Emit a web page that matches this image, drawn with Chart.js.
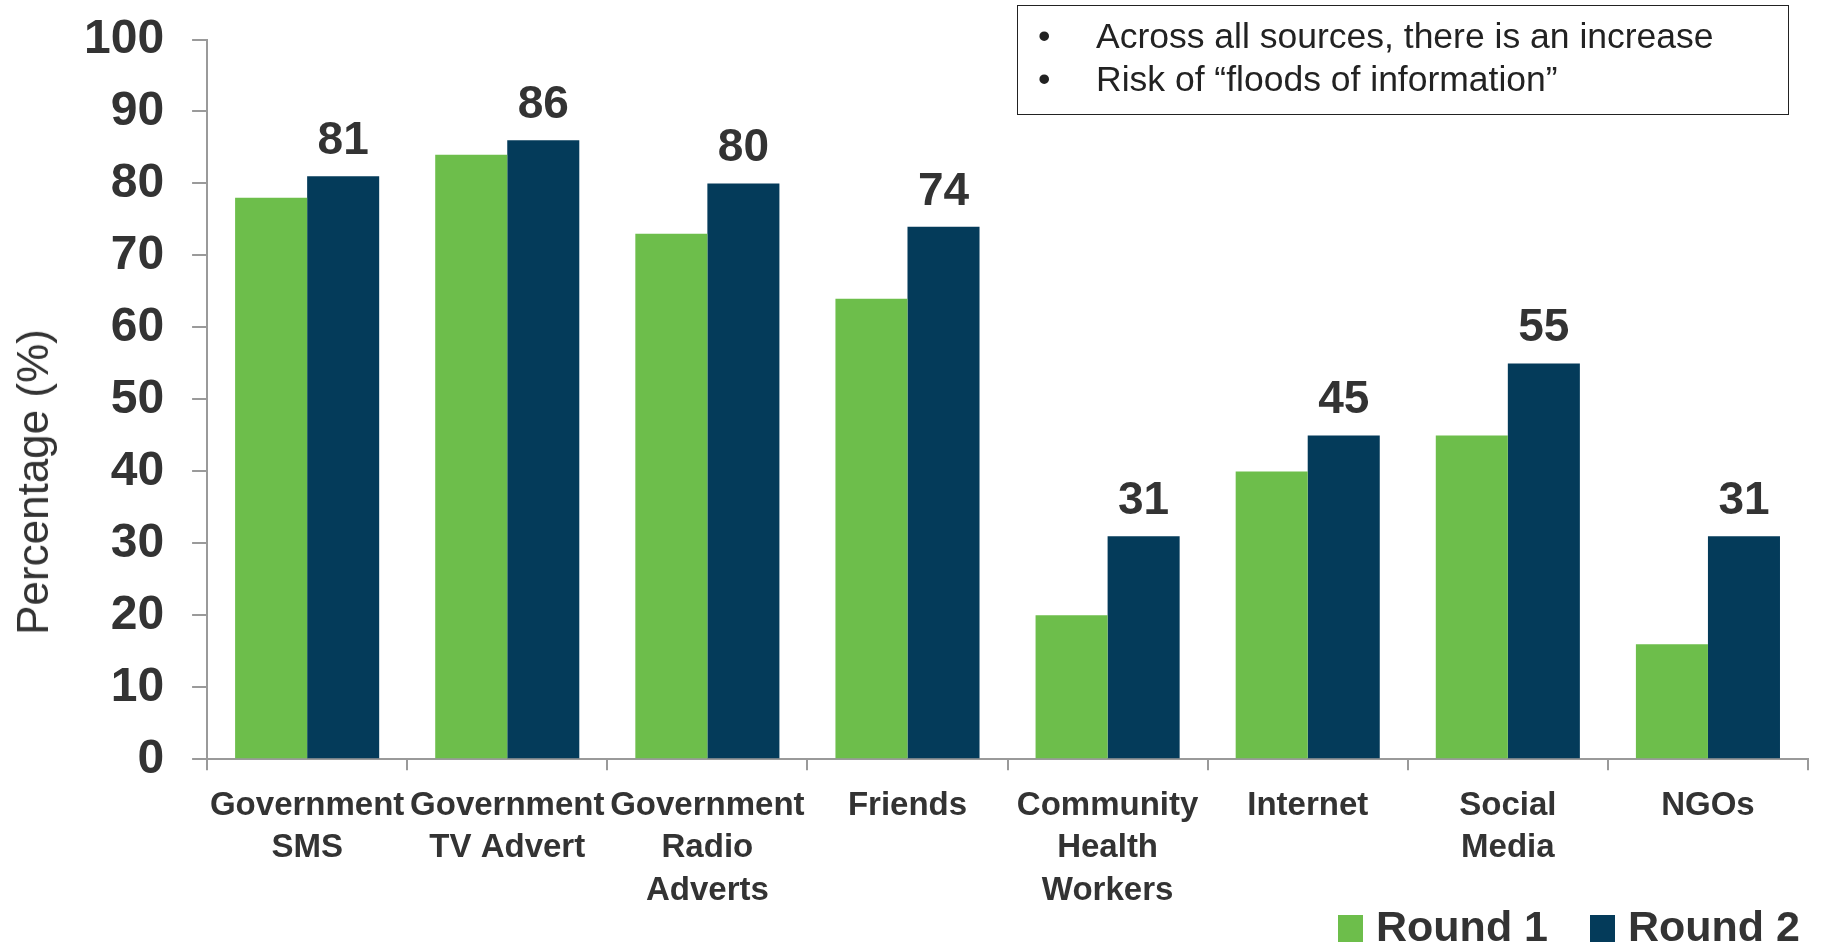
<!DOCTYPE html>
<html lang="en">
<head>
    <meta charset="UTF-8">
    <title>Sources of information</title>
    <script src="https://cdn.jsdelivr.net/npm/chart.js"></script>
    <style>
        body { margin: 0; background: #fff; }
        .wrap { position: relative; width: 1822px; height: 945px; }
        .ytitle {
            position: absolute; left: 33px; top: 482px;
            transform: translate(-50%, -50%) rotate(-90deg);
            font: 44px "Liberation Sans", Arial, sans-serif; color: #333;
            white-space: nowrap;
        }
        .note {
            position: absolute; left: 1017px; top: 5px; width: 772px; height: 110px;
            border: 1.5px solid #222; box-sizing: border-box;
            font: 35.5px "Liberation Sans", Arial, sans-serif; color: #222;
            padding: 9px 0 0 0;
        }
        .note div { position: relative; padding-left: 78px; line-height: 43px; }
        .note div::before { content: "\2022"; position: absolute; left: 20px; }
        #legend {
            position: absolute; right: 22px; top: 904px; height: 44px;
            display: flex; align-items: center;
            font: bold 43px "Liberation Sans", Arial, sans-serif; color: #333;
        }
        #legend .item { display: flex; align-items: center; margin-left: 42px; line-height: 44px; }
        #legend .box { width: 25px; height: 27px; margin: 4px 13px 0 0; }
    </style>
</head>
<body>
    <div class="wrap">
        <canvas id="sourcesChart" width="1822" height="945"></canvas>
        <div class="ytitle">Percentage (%)</div>
        <div class="note">
            <div>Across all sources, there is an increase</div>
            <div>Risk of “floods of information”</div>
        </div>
        <div id="legend"></div>
    </div>
    <script>
        const categories = [
            ['Government', 'SMS'],
            ['Government', 'TV Advert'],
            ['Government', 'Radio', 'Adverts'],
            ['Friends'],
            ['Community', 'Health', 'Workers'],
            ['Internet'],
            ['Social', 'Media'],
            ['NGOs']
        ];
        const round1 = [78, 84, 73, 64, 20, 40, 45, 16];
        const round2 = [81, 86, 80, 74, 31, 45, 55, 31];
        const yTicks = [0, 10, 20, 30, 40, 50, 60, 70, 80, 90, 100];

        const textColor = '#333333';
        const axisColor = '#9a9a9a';

        // value labels over the Round 2 bars
        const valueLabels = {
            id: 'valueLabels',
            afterDatasetsDraw(chart) {
                const ctx = chart.ctx;
                const meta = chart.getDatasetMeta(1);
                const values = chart.data.datasets[1].data;
                ctx.save();
                ctx.font = 'bold 46px "Liberation Sans", Arial, sans-serif';
                ctx.fillStyle = textColor;
                ctx.textAlign = 'center';
                ctx.textBaseline = 'alphabetic';
                meta.data.forEach((bar, i) => {
                    ctx.fillText(String(values[i]), bar.x, bar.y - 22);
                });
                ctx.restore();
            }
        };

        const ctx = document.getElementById('sourcesChart').getContext('2d');
        const chart = new Chart(ctx, {
            type: 'bar',
            data: {
                labels: categories,
                datasets: [
                    { label: 'Round 1', data: round1, backgroundColor: '#6dbe4b' },
                    { label: 'Round 2', data: round2, backgroundColor: '#043b5a' }
                ]
            },
            options: {
                responsive: false,
                animation: false,
                layout: { padding: { left: 56, right: 14, top: 0, bottom: 19 } },
                datasets: { bar: { categoryPercentage: 0.72, barPercentage: 1.0 } },
                plugins: {
                    legend: { display: false },
                    tooltip: { enabled: false }
                },
                scales: {
                    x: {
                        border: { display: true, color: axisColor, width: 2 },
                        grid: { display: true, drawOnChartArea: false, drawTicks: true, tickLength: 11, color: axisColor, lineWidth: 2 },
                        ticks: {
                            color: textColor,
                            padding: 14,
                            maxRotation: 0,
                            autoSkip: false,
                            font: { family: '"Liberation Sans", Arial, sans-serif', size: 33, weight: 'bold', lineHeight: 1.29 }
                        }
                    },
                    y: {
                        min: 0,
                        max: 100,
                        afterBuildTicks(scale) {
                            scale.ticks = yTicks.map(v => ({ value: v }));
                        },
                        border: { display: true, color: axisColor, width: 2 },
                        grid: { display: true, drawOnChartArea: false, drawTicks: true, tickLength: 15, color: axisColor, lineWidth: 2 },
                        ticks: {
                            color: textColor,
                            padding: 28,
                            font: { family: '"Liberation Sans", Arial, sans-serif', size: 48, weight: 'bold', lineHeight: 0.48 }
                        }
                    }
                }
            },
            plugins: [valueLabels]
        });

        // legend built from the chart's datasets
        const legendEl = document.getElementById('legend');
        chart.data.datasets.forEach(ds => {
            const item = document.createElement('div');
            item.className = 'item';
            const box = document.createElement('span');
            box.className = 'box';
            box.style.background = ds.backgroundColor;
            item.appendChild(box);
            item.appendChild(document.createTextNode(ds.label));
            legendEl.appendChild(item);
        });
    </script>
</body>
</html>
